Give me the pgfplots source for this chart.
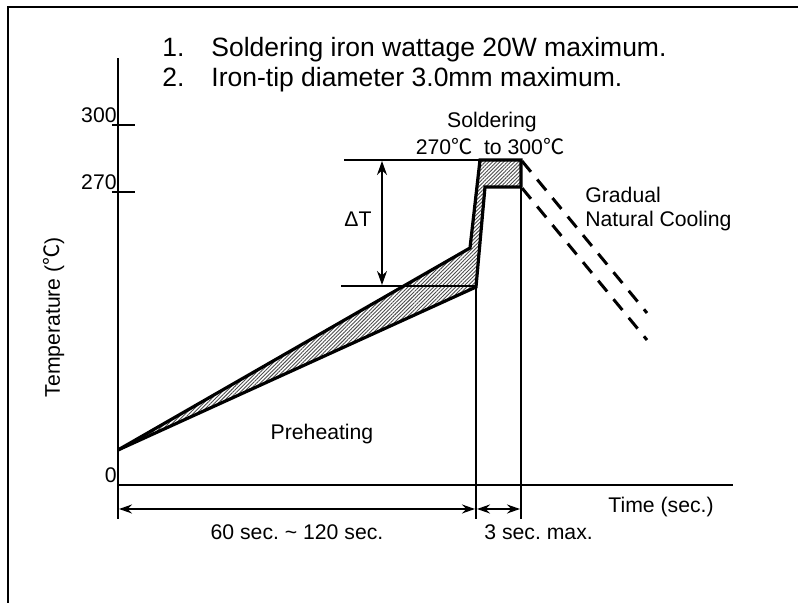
\documentclass[border=0pt]{standalone}
\usepackage{fontspec}
\setmainfont{Liberation Sans}
\newfontfamily\cjk{Noto Sans CJK SC}
\usepackage{pgfplots}
\pgfplotsset{compat=1.18}
\usetikzlibrary{arrows.meta,patterns.meta}
\newcommand\dc{{\cjk ℃}}
\newcommand\bigf{\fontsize{13.25pt}{15pt}\selectfont}
\newcommand\lab{\fontsize{10.6pt}{12.5pt}\selectfont}
\frenchspacing
\begin{document}
\frenchspacing
\begin{tikzpicture}
\begin{axis}[
  x=0.5pt, y=0.5pt,
  xmin=0, xmax=615, ymin=0, ymax=427,
  axis lines=left, axis line style={-, line width=1pt},
  xtick=\empty,
  ytick={0,293,360}, yticklabels={0,270,300},
  major tick length=0pt,
  /pgf/number format/assume math mode=true,
  tick label style={font=\lab},
  yticklabel style={anchor=south east, inner sep=0pt, xshift=-0.5pt, yshift=1pt},
  clip=false,
  ylabel={Temperature (\dc)},
  ylabel style={font=\lab, at={(axis description cs:-0.104,0.393)}, anchor=center},
  >={Stealth[length=6.5pt,width=4.5pt]},
]
% hatched band
\addplot[draw=none, pattern={Lines[angle=45,distance=1.3pt,line width=0.45pt]}, pattern color=black!70]
  coordinates {(0,35)(352,237)(362,325)(403,325)(403,298)(367,298)(358,198)} -- cycle;
% thin verticals
\addplot[black, line width=0.75pt] coordinates {(358,198)(358,-34)};
\addplot[black, line width=0.75pt] coordinates {(403,298)(403,-34)};
\addplot[black, line width=1pt] coordinates {(0,0)(0,-34)};
% delta T lines
\addplot[black, line width=0.85pt] coordinates {(226,325)(362,325)};
\addplot[black, line width=0.85pt] coordinates {(223,199)(358,199)};
\addplot[black, line width=0.8pt, <->, >={Stealth[length=7pt,width=5pt]}] coordinates {(264,324)(264,200)};
% bottom arrows
\addplot[black, line width=0.8pt, <->] coordinates {(1,-24)(357,-24)};
\addplot[black, line width=0.8pt, <->] coordinates {(359,-24)(402,-24)};
% ticks
\addplot[black, line width=1pt] coordinates {(-6,360)(17,360)};
\addplot[black, line width=1pt] coordinates {(-6,293)(17,293)};
% profiles
\addplot[black, line width=1.6pt, line join=miter] coordinates {(0,35)(352,237)(362,325)(403,325)(403,298)};
\addplot[black, line width=1.6pt, line join=miter] coordinates {(0,35)(358,198)(367,298)(403,298)};
% cooling
\addplot[black, line width=1.5pt, dash pattern=on 7pt off 5pt] coordinates {(404,324)(529,172)};
\addplot[black, line width=1.5pt, dash pattern=on 7pt off 5pt] coordinates {(404,297)(529,145)};
% texts
\node[anchor=base west, inner sep=0pt, font=\bigf] at (axis cs:44,428) {1.};
\node[anchor=base west, inner sep=0pt, font=\bigf] at (axis cs:93,428) {Soldering iron wattage 20W maximum.};
\node[anchor=base west, inner sep=0pt, font=\bigf] at (axis cs:44,398) {2.};
\node[anchor=base west, inner sep=0pt, font=\bigf] at (axis cs:93,398) {Iron-tip diameter 3.0mm maximum.};
\node[anchor=base, inner sep=0pt, font=\lab] at (axis cs:374,357) {Soldering};
\node[anchor=base, inner sep=0pt, font=\lab] at (axis cs:372,330) {270\dc\ \ to 300\dc};
\node[anchor=base west, inner sep=0pt, font=\lab] at (axis cs:467,282) {Gradual};
\node[anchor=base west, inner sep=0pt, font=\lab] at (axis cs:467,258) {Natural Cooling};
\node[anchor=base, inner sep=0pt, font=\lab] at (axis cs:240,258) {ΔT};
\node[anchor=base, inner sep=0pt, font=\lab] at (axis cs:204,45) {Preheating};
\node[anchor=base west, inner sep=0pt, font=\lab] at (axis cs:490,-28) {Time (sec.)};
\node[anchor=base, inner sep=0pt, font=\lab] at (axis cs:179,-55) {60 sec. \textasciitilde{} 120 sec.};
\node[anchor=base west, inner sep=0pt, font=\lab] at (axis cs:366,-55) {3 sec. max.};
% frame
\draw[line width=1pt] (axis cs:-110,-140) rectangle (axis cs:702,478);
\coordinate (bbll) at (axis cs:-118,-118);
\coordinate (bbur) at (axis cs:680,485);
\end{axis}
\pgfresetboundingbox
\useasboundingbox (bbll) rectangle (bbur);
\end{tikzpicture}
\end{document}
